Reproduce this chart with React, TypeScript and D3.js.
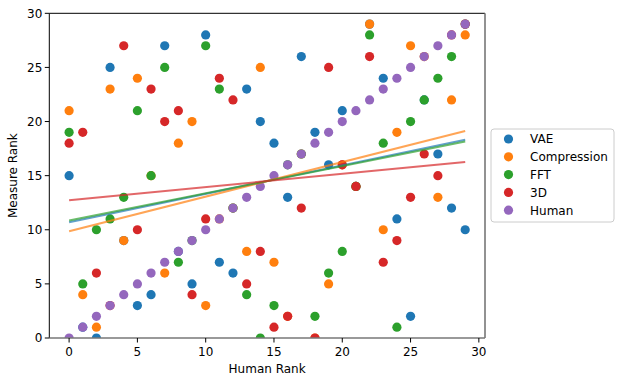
import React from "react";
import * as d3 from "d3";

// Human rank on x, measure rank on y (index = human rank)
const humanRanks = d3.range(30);
const vaeRanks = [15, 1, 0, 25, 9, 3, 4, 27, 8, 5, 28, 7, 6, 23, 20, 18, 13, 26, 19, 16, 21, 14, 29, 24, 11, 2, 22, 17, 12, 10];
const compressionRanks = [21, 4, 1, 23, 9, 24, 15, 6, 18, 20, 3, 11, 12, 8, 25, 7, 2, 17, 0, 5, 16, 14, 29, 10, 19, 27, 26, 13, 22, 28];
const fftRanks = [19, 5, 10, 11, 13, 21, 15, 25, 7, 9, 27, 23, 12, 4, 0, 3, 16, 17, 2, 6, 8, 14, 28, 18, 1, 20, 22, 24, 26, 29];
const threeDRanks = [18, 19, 6, 3, 27, 10, 23, 20, 21, 4, 11, 24, 22, 5, 8, 1, 2, 12, 0, 25, 16, 14, 26, 7, 9, 13, 17, 15, 28, 29];
const humanSelf = humanRanks.slice();

const seriesNames = ["VAE", "Compression", "FFT", "3D", "Human"];
const seriesColors = ["#1f77b4", "#ff7f0e", "#2ca02c", "#d62728", "#9467bd"];
const seriesValues = [vaeRanks, compressionRanks, fftRanks, threeDRanks, humanSelf];
// only the measures get a trend line, not the human ranking itself
const fittedSeries = ["VAE", "Compression", "FFT", "3D"];
const xTicks = [0, 5, 10, 15, 20, 25, 30];
const yTicks = [0, 5, 10, 15, 20, 25, 30];

const font = "DejaVu Sans, sans-serif";

// least squares fit
function fit(xs: number[], ys: number[]) {
  const mx = d3.mean(xs) as number;
  const my = d3.mean(ys) as number;
  let num = 0;
  let den = 0;
  xs.forEach((x, i) => {
    num += (x - mx) * (ys[i] - my);
    den += (x - mx) * (x - mx);
  });
  const slope = num / den;
  return { slope, intercept: my - slope * mx };
}

export default function App() {
  const width = 623;
  const height = 384;
  const margin = { top: 13.3, right: 138, bottom: 46, left: 49.3 };
  const plotWidth = width - margin.left - margin.right;
  const plotHeight = height - margin.top - margin.bottom;

  const xScale = d3.scaleLinear().domain([-1.45, 30.45]).range([0, plotWidth]);
  const yScale = d3.scaleLinear().domain([0, 30]).range([plotHeight, 0]);

  const xMin = d3.min(humanRanks) as number;
  const xMax = d3.max(humanRanks) as number;

  const legendX = 491;
  const legendY = 129;
  const rowH = 17.8;

  return (
    <svg width={width} height={height} style={{ position: "absolute", left: 0, top: 0 }}>
      <rect width={width} height={height} fill="white" />
      <defs>
        <clipPath id="plot-clip">
          <rect x={0} y={0} width={plotWidth} height={plotHeight} />
        </clipPath>
      </defs>
      <g transform={`translate(${margin.left}, ${margin.top})`}>
        {/* scatter */}
        <g clipPath="url(#plot-clip)">
          {seriesValues.map((ys, s) => (
            <g key={seriesNames[s]}>
              {ys.map((y, i) => (
                <circle
                  key={i}
                  cx={xScale(humanRanks[i])}
                  cy={yScale(y)}
                  r={4.6}
                  fill={seriesColors[s]}
                />
              ))}
            </g>
          ))}
          {/* regression lines */}
          {seriesValues.map((ys, s) => {
            if (!fittedSeries.includes(seriesNames[s])) return null;
            const f = fit(humanRanks, ys);
            return (
              <line
                key={seriesNames[s]}
                x1={xScale(xMin)}
                y1={yScale(f.intercept + f.slope * xMin)}
                x2={xScale(xMax)}
                y2={yScale(f.intercept + f.slope * xMax)}
                stroke={seriesColors[s]}
                strokeOpacity={0.7}
                strokeWidth={2}
              />
            );
          })}
        </g>

        {/* spines */}
        <line x1={0} y1={0} x2={plotWidth} y2={0} stroke="black" strokeWidth={1} />
        <line x1={0} y1={0} x2={0} y2={plotHeight} stroke="black" strokeWidth={1} />
        <line x1={plotWidth} y1={0} x2={plotWidth} y2={plotHeight} stroke="#777" strokeWidth={1.6} />
        <line x1={0} y1={plotHeight} x2={plotWidth} y2={plotHeight} stroke="#777" strokeWidth={1.6} />

        {/* X axis */}
        {xTicks.map((t) => (
          <g key={t} transform={`translate(${xScale(t)}, ${plotHeight})`}>
            <line y1={0} y2={4.5} stroke="black" />
            <text y={18} textAnchor="middle" fontFamily={font} fontSize={12}>
              {t}
            </text>
          </g>
        ))}
        <text
          x={plotWidth / 2}
          y={plotHeight + 35}
          textAnchor="middle"
          fontFamily={font}
          fontSize={12}
        >
          Human Rank
        </text>

        {/* Y axis */}
        {yTicks.map((t) => (
          <g key={t} transform={`translate(0, ${yScale(t)})`}>
            <line x1={-4.5} x2={0} stroke="black" />
            <text x={-7} dy="0.36em" textAnchor="end" fontFamily={font} fontSize={12}>
              {t}
            </text>
          </g>
        ))}
        <text
          transform={`translate(${-margin.left + 17}, ${plotHeight / 2}) rotate(-90)`}
          textAnchor="middle"
          fontFamily={font}
          fontSize={12}
        >
          Measure Rank
        </text>
      </g>

      {/* legend */}
      <rect
        x={legendX}
        y={legendY}
        width={123}
        height={93}
        rx={3}
        fill="white"
        fillOpacity={0.8}
        stroke="#ccc"
        strokeWidth={1}
      />
      {seriesNames.map((name, i) => (
        <g key={name} transform={`translate(${legendX}, ${legendY + 10 + i * rowH})`}>
          <circle cx={17.5} cy={0} r={4.6} fill={seriesColors[i]} />
          <text x={39} dy="0.36em" fontFamily={font} fontSize={12}>
            {name}
          </text>
        </g>
      ))}
    </svg>
  );
}
